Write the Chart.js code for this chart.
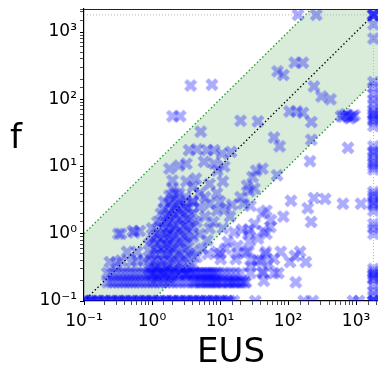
<!DOCTYPE html>
<html>
<head>
<meta charset="utf-8">
<script src="https://cdn.jsdelivr.net/npm/chart.js@4/dist/chart.umd.min.js"></script>
<style>
  html, body { margin: 0; padding: 0; background: #fff; }
  canvas { display: block; }
</style>
</head>
<body>
<canvas id="scatterChart" width="378" height="368"></canvas>
<script>
const xTitle = 'EUS'
const yTitle = 'f'
const xLimits = [0.1, 2100]
const yLimits = [0.1, 2200]
const capValue = 1800
const superscripts = { '-1': '⁻¹', '0': '⁰', '1': '¹', '2': '²', '3': '³' }

// EUS values of the points sitting on the f = 0.1 floor
const floorEus = [0.1, 0.11, 0.12, 0.13, 0.15, 0.17, 0.19, 0.21, 0.24, 0.27, 0.3, 0.33, 0.37, 0.42, 0.47,
  0.53, 0.6, 0.67, 0.75, 0.85, 0.95, 1.05, 1.2, 1.35, 1.5, 1.7, 1.9, 2.1, 2.4, 2.7, 3, 3.4, 3.8, 4.3,
  4.8, 5.4, 6, 6.8, 7.6, 8.5, 9.5, 11, 12.5, 14, 16,
  0.1, 0.13, 0.16, 0.2, 0.25, 0.32, 0.4, 0.5, 0.65, 0.8, 1, 1.3, 1.6, 2, 2.5, 3.2, 4, 5, 6.3, 8, 10, 13,
  33, 170, 230, 900, 1100]

// two crowded rows just above the floor
const rowLowEus = [0.22, 0.25, 0.28, 0.32, 0.36, 0.4, 0.45, 0.5, 0.56, 0.63, 0.7, 0.8, 0.9, 1, 1.1, 1.25,
  1.4, 1.6, 1.8, 2, 2.3, 2.6, 3, 3.4, 3.9, 4.5, 5, 5.7, 6.5, 7.5, 8.5, 9.5, 11, 12.5, 14, 16, 18, 21, 24,
  4.2, 5.3, 6.1, 7, 8, 9, 10.5, 13, 15, 17, 20, 23, 130]
const rowLowF = 0.19
const rowHighEus = [0.22, 0.26, 0.3, 0.35, 0.4, 0.46, 0.53, 0.6, 0.7, 0.8, 0.9, 1, 1.15, 1.3, 1.5, 1.7, 2,
  2.3, 2.7, 3.1, 3.6, 4.2, 4.8, 5.5, 6.3, 7.2, 8.2, 9.5, 11, 12.5, 14.5, 17, 20,
  3.3, 3.9, 4.5, 5.2, 6, 6.8, 7.8, 8.8, 28, 43, 62, 72]
const rowHighF = 0.26

// [EUS, f] pairs
const lowScatter = [[0.24, 0.38], [0.3, 0.37], [0.35, 0.4], [0.5, 0.38], [0.6, 0.4], [0.76, 0.4], [0.43, 0.54],
  [0.6, 0.54], [0.32, 1.0], [0.35, 1.0], [0.52, 1.1], [0.55, 1.04], [0.66, 1.1], [6.6, 0.5], [9, 0.54],
  [10, 0.5], [10.2, 0.42], [12, 0.6], [17, 0.42], [18, 0.5], [24, 0.54], [26, 0.54], [28, 0.33], [29, 0.4],
  [36, 0.4], [40, 0.4], [42, 0.27], [44, 0.2], [46, 0.5], [47, 0.54], [51, 0.36], [62, 0.42], [78, 0.54],
  [107, 0.38], [126, 0.47], [150, 0.54], [182, 0.38], [13, 0.76], [18, 0.66], [27, 0.76]]

const midRight = [[16, 1.05], [21, 1.15], [27, 1.15], [26, 1.0], [32, 1.4], [36, 0.85], [42, 2.0], [48, 2.2],
  [43, 1.1], [48, 1.0], [55, 1.26], [56, 1.6], [85, 1.8], [110, 3.1], [195, 2.4], [218, 1.5], [240, 3.4],
  [350, 3.3], [640, 2.8], [1180, 2.8]]

const blob = [[0.9, 0.3], [0.9, 0.45], [0.9, 0.7],
  [1.0, 0.25], [1.0, 0.35], [1.0, 0.5], [1.0, 0.8], [1.0, 1.2],
  [1.1, 0.3], [1.1, 0.4], [1.1, 0.6], [1.1, 0.9],
  [1.2, 0.22], [1.2, 0.32], [1.2, 0.5], [1.2, 0.7], [1.2, 1.0], [1.2, 1.5],
  [1.35, 0.28], [1.35, 0.4], [1.35, 0.6], [1.35, 0.85], [1.35, 1.3], [1.35, 2.0],
  [1.5, 0.25], [1.5, 0.35], [1.5, 0.5], [1.5, 0.7], [1.5, 1.0], [1.5, 1.5], [1.5, 2.3], [1.5, 3.0],
  [1.65, 0.3], [1.65, 0.45], [1.65, 0.65], [1.65, 0.9], [1.65, 1.2], [1.65, 1.8],
  [1.8, 0.22], [1.8, 0.33], [1.8, 0.5], [1.8, 0.7], [1.8, 1.0], [1.8, 1.4], [1.8, 2.0], [1.8, 2.8], [1.8, 3.7], [1.8, 9.3],
  [2.0, 0.28], [2.0, 0.4], [2.0, 0.6], [2.0, 0.85], [2.0, 1.2], [2.0, 1.7], [2.0, 2.4], [2.0, 3.3], [2.0, 4.7], [2.0, 6.2],
  [2.2, 0.3], [2.2, 0.45], [2.2, 0.65], [2.2, 0.95], [2.2, 1.3], [2.2, 1.9], [2.2, 2.6], [2.2, 4.0],
  [2.5, 0.25], [2.5, 0.35], [2.5, 0.5], [2.5, 0.75], [2.5, 1.1], [2.5, 1.6], [2.5, 2.2], [2.5, 3.0], [2.5, 4.0], [2.5, 10.3],
  [2.8, 0.3], [2.8, 0.45], [2.8, 0.7], [2.8, 1.0], [2.8, 1.4], [2.8, 2.0], [2.8, 2.8],
  [3.1, 0.25], [3.1, 0.4], [3.1, 0.6], [3.1, 0.9], [3.1, 1.3], [3.1, 1.8], [3.1, 2.5], [3.1, 3.5],
  [3.5, 0.3], [3.5, 0.5], [3.5, 0.8], [3.5, 1.2], [3.5, 1.7], [3.5, 2.4],
  [4.0, 0.35], [4.0, 0.55], [4.0, 0.9], [4.0, 1.3], [4.0, 2.0], [4.0, 3.0]]

const bandMid = [[4.5, 0.45], [5.5, 0.6], [6.5, 0.8], [5, 1.0], [7, 1.2], [4.5, 1.5], [6, 1.8], [8, 1.5],
  [9, 2.2], [5, 2.5], [7, 2.8], [10, 3.0], [4, 3.0], [6, 3.5], [3.2, 6], [4, 5], [5, 4], [7, 5.5], [9, 4],
  [11, 6], [12, 2.4], [14, 1.8], [11, 1.2], [15, 2.7], [20, 3.5], [25, 5.2], [32, 4.7], [27, 4.3], [30, 7],
  [22, 2.8], [28, 2.6], [69, 7.4]]

const upperScatter = [[3.5, 17.5], [4.6, 18], [6.4, 17.5], [8.2, 17.5], [10.7, 15.5], [14.5, 16.5], [3.2, 11],
  [5.8, 11.8], [8.2, 11], [11.5, 10], [9.1, 8.7], [4.4, 6.6], [34, 8.7], [42, 9.3], [5.2, 33], [20, 48],
  [36, 47], [62, 27], [75, 20], [220, 25], [210, 12], [760, 19], [220, 46], [105, 66], [135, 66], [165, 63],
  [600, 56], [650, 55], [700, 60], [750, 57], [800, 52], [850, 54], [900, 56], [950, 58], [2.0, 56], [2.6, 56],
  [3.7, 160], [7.6, 165], [70, 260], [85, 230], [125, 350], [165, 350], [240, 155], [310, 110], [420, 100],
  [140, 1800], [260, 1800]]

// f values of the points sitting on the EUS cap
const capColumnF = [1800, 1800, 1800, 1800, 1300, 800, 180, 150, 120, 100, 85, 70, 62, 60, 55, 50, 47, 40,
  20, 17, 16, 14, 12, 11, 10, 9, 4.2, 3.8, 3.5, 3, 2.8, 2.6, 2.2, 1.4, 1.2, 1.0,
  0.3, 0.27, 0.25, 0.24, 0.22, 0.21, 0.17, 0.14, 0.12, 0.1, 0.1, 0.1]

// guide lines
const guideEus = [0.1, 2200]
const bandUpper = [1, 22000]
const bandLower = [0.01, 220]

const toPoints = (pairs) => pairs.map(([x, y]) => ({ x, y }))
const points = [
  ...floorEus.map((x) => ({ x, y: 0.1 })),
  ...rowLowEus.map((x) => ({ x, y: rowLowF })),
  ...rowHighEus.map((x) => ({ x, y: rowHighF })),
  ...toPoints(lowScatter),
  ...toPoints(midRight),
  ...toPoints(blob),
  ...toPoints(bandMid),
  ...toPoints(upperScatter),
  ...capColumnF.map((y) => ({ x: capValue, y }))
]

// filled "X" marker like matplotlib's
const makeMarker = (size) => {
  const c = document.createElement('canvas')
  c.width = 16
  c.height = 16
  const g = c.getContext('2d')
  const k = size / 6
  const shape = [[-1, -3], [1, -3], [1, -1], [3, -1], [3, 1], [1, 1], [1, 3], [-1, 3], [-1, 1], [-3, 1], [-3, -1], [-1, -1]]
  g.translate(8, 8)
  g.rotate(Math.PI / 4)
  g.beginPath()
  shape.forEach(([a, b], i) => (i ? g.lineTo(a * k, b * k) : g.moveTo(a * k, b * k)))
  g.closePath()
  g.fillStyle = 'rgba(0, 0, 255, 0.33)'
  g.fill()
  return c
}

const isDecade = (v) => Math.abs(Math.log10(v) - Math.round(Math.log10(v))) < 1e-6
const tickLabel = (v) => {
  if (!isDecade(v)) return ''
  const e = Math.round(Math.log10(v))
  return superscripts[e] !== undefined ? '10' + superscripts[e] : ''
}

const extras = {
  id: 'extras',
  afterDraw(chart) {
    const { ctx, chartArea } = chart
    ctx.save()
    ctx.strokeStyle = '#222'
    ctx.lineWidth = 1
    ctx.beginPath()
    ctx.moveTo(chartArea.left, chartArea.top + 0.5)
    ctx.lineTo(chartArea.right, chartArea.top + 0.5)
    ctx.stroke()
    ctx.font = '34px "DejaVu Sans"'
    ctx.fillStyle = '#000'
    ctx.textAlign = 'center'
    ctx.textBaseline = 'alphabetic'
    ctx.fillText(yTitle, 16, 148)
    ctx.restore()
  }
}

const axisFont = { family: 'DejaVu Sans', size: 17 }
const grid = {
  drawOnChartArea: false,
  tickLength: 4,
  tickColor: '#000',
  tickWidth: (c) => (c.tick && isDecade(c.tick.value) ? 1 : 0.7)
}

const paintChart = () => {
  const ctx = document.getElementById('scatterChart').getContext('2d')
  const guide = (data, color, width, dash, order) => ({
    data,
    showLine: true,
    pointRadius: 0,
    borderColor: color,
    borderWidth: width,
    borderDash: dash,
    fill: false,
    clip: 0,
    order
  })
  new Chart(ctx, {
    type: 'scatter',
    data: {
      datasets: [
        {
          data: points,
          pointStyle: makeMarker(14),
          pointRadius: 7,
          clip: 0,
          order: 0
        },
        guide(toPoints([[0.1, 0.1], [capValue, capValue]]), '#000', 1.4, [1.4, 2.4], 1),
        guide(toPoints([[xLimits[0], capValue], [guideEus[1], capValue]]), '#b5b5b5', 1, [1, 2], 1),
        guide(toPoints([[capValue, yLimits[0]], [capValue, yLimits[1]]]), '#b5b5b5', 1, [1, 2], 1),
        {
          ...guide(guideEus.map((x, i) => ({ x, y: bandUpper[i] })), '#1e9b1e', 1.4, [1.4, 2.4], 2),
          fill: '+1',
          backgroundColor: 'rgba(0, 128, 0, 0.15)'
        },
        guide(guideEus.map((x, i) => ({ x, y: bandLower[i] })), '#1e9b1e', 1.4, [1.4, 2.4], 2)
      ]
    },
    options: {
      responsive: false,
      animation: false,
      events: [],
      layout: { autoPadding: false, padding: { top: 9, right: 0, left: 0, bottom: 0 } },
      plugins: { legend: { display: false }, tooltip: { enabled: false } },
      scales: {
        x: {
          type: 'logarithmic',
          position: 'bottom',
          bounds: 'data',
          min: xLimits[0],
          max: xLimits[1],
          grid,
          border: { color: '#000', width: 1.2 },
          ticks: { autoSkip: false, maxRotation: 0, color: '#000', font: axisFont, padding: 6, callback: tickLabel },
          title: { display: true, text: xTitle, color: '#000', font: { family: 'DejaVu Sans', size: 34, lineHeight: 0.9 }, padding: 0 },
          afterFit: (s) => {
            s.height = 67
            s.paddingLeft = 0
            s.paddingRight = 0
          }
        },
        y: {
          type: 'logarithmic',
          position: 'left',
          bounds: 'data',
          min: yLimits[0],
          max: yLimits[1],
          grid,
          border: { color: '#000', width: 1.2 },
          ticks: { autoSkip: false, color: '#000', font: axisFont, padding: 3, callback: tickLabel },
          afterFit: (s) => {
            s.width = 84
            s.paddingTop = 0
            s.paddingBottom = 0
          }
        }
      }
    },
    plugins: [extras]
  })
}

paintChart()
</script>
</body>
</html>
